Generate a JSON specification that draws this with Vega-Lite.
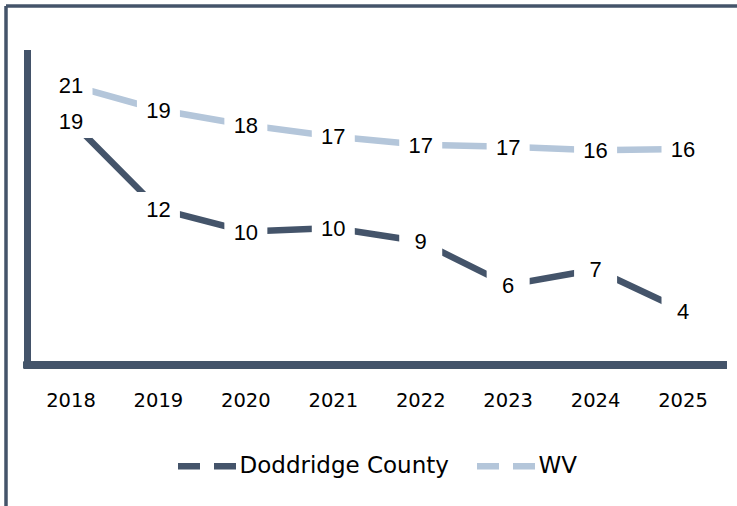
{
  "$schema": "https://vega.github.io/schema/vega-lite/v6.json",
  "autosize": {"type": "none"},
  "padding": {"left": 5.5, "top": 5.5, "right": 0, "bottom": 0},
  "width": 731.5,
  "height": 500.5,
  "background": "white",
  "config": {"view": {"stroke": null}},
  "data": {
    "values": [
      {"year": 2018, "series": "Doddridge County", "value": 18.59},
      {"year": 2019, "series": "Doddridge County", "value": 11.89},
      {"year": 2020, "series": "Doddridge County", "value": 10.17},
      {"year": 2021, "series": "Doddridge County", "value": 10.44},
      {"year": 2022, "series": "Doddridge County", "value": 9.41},
      {"year": 2023, "series": "Doddridge County", "value": 6.1},
      {"year": 2024, "series": "Doddridge County", "value": 7.28},
      {"year": 2025, "series": "Doddridge County", "value": 4.15},
      {"year": 2018, "series": "WV", "value": 21.31},
      {"year": 2019, "series": "WV", "value": 19.45},
      {"year": 2020, "series": "WV", "value": 18.29},
      {"year": 2021, "series": "WV", "value": 17.41},
      {"year": 2022, "series": "WV", "value": 16.78},
      {"year": 2023, "series": "WV", "value": 16.63},
      {"year": 2024, "series": "WV", "value": 16.37},
      {"year": 2025, "series": "WV", "value": 16.46}
    ]
  },
  "layer": [
    {
      "mark": {"type": "rule", "color": "#44546A", "strokeWidth": 6.5},
      "encoding": {
        "x": {"datum": 2017.5, "type": "quantitative", "scale": {"domain": [2017.2508, 2025.6175], "nice": false, "zero": false}, "axis": {"orient": "top", "domain": true, "domainColor": "#44546A", "domainWidth": 3.5, "ticks": false, "labels": false, "grid": false, "title": null}},
        "y": {"datum": -0.25, "type": "quantitative", "scale": {"domain": [-10.743, 27.39], "nice": false, "zero": false}, "axis": {"orient": "left", "domain": true, "domainColor": "#44546A", "domainWidth": 3.5, "ticks": false, "labels": false, "grid": false, "title": null}},
        "y2": {"datum": 24}
      }
    },
    {
      "mark": {"type": "rule", "color": "#44546A", "strokeWidth": 6.5},
      "encoding": {
        "x": {"datum": 2017.46, "type": "quantitative"},
        "x2": {"datum": 2025.5},
        "y": {"datum": 0, "type": "quantitative"}
      }
    },
    {
      "mark": {"type": "line", "strokeWidth": 6.5},
      "encoding": {
        "x": {"field": "year", "type": "quantitative"},
        "y": {"field": "value", "type": "quantitative"},
        "color": {
          "field": "series", "type": "nominal",
          "scale": {"domain": ["Doddridge County", "WV"], "range": ["#44546A", "#B4C6DA"]},
          "legend": {
            "orient": "none", "legendX": 169, "legendY": 428, "direction": "horizontal",
            "title": null, "padding": 0,
            "symbolType": "stroke", "symbolSize": 3364, "symbolStrokeWidth": 6.5,
            "symbolDash": [22, 14],
            "labelFont": "DejaVu Sans", "labelFontSize": 23, "labelColor": "#000000",
            "labelOffset": 0, "columnPadding": 14, "labelLimit": 400
          }
        }
      }
    },
    {
      "mark": {"type": "point", "shape": "M-1,-0.79H1V0.79H-1Z", "filled": true, "color": "white", "opacity": 1, "size": 1849, "strokeWidth": 0},
      "encoding": {
        "x": {"field": "year", "type": "quantitative"},
        "y": {"field": "value", "type": "quantitative"}
      }
    },
    {
      "mark": {"type": "text", "font": "Liberation Sans", "fontSize": 22, "color": "#000000", "baseline": "middle", "align": "center", "dy": 1},
      "encoding": {
        "x": {"field": "year", "type": "quantitative"},
        "y": {"field": "value", "type": "quantitative"},
        "text": {"field": "value", "type": "quantitative", "format": ".0f"}
      }
    },
    {
      "transform": [{"filter": "datum.series === 'WV'"}],
      "mark": {"type": "text", "font": "DejaVu Sans", "fontSize": 19.5, "letterSpacing": 2.3, "color": "#000000", "baseline": "middle", "align": "center"},
      "encoding": {
        "x": {"field": "year", "type": "quantitative"},
        "y": {"datum": -2.72, "type": "quantitative"},
        "text": {"field": "year", "type": "nominal"}
      }
    }
  ]
}
